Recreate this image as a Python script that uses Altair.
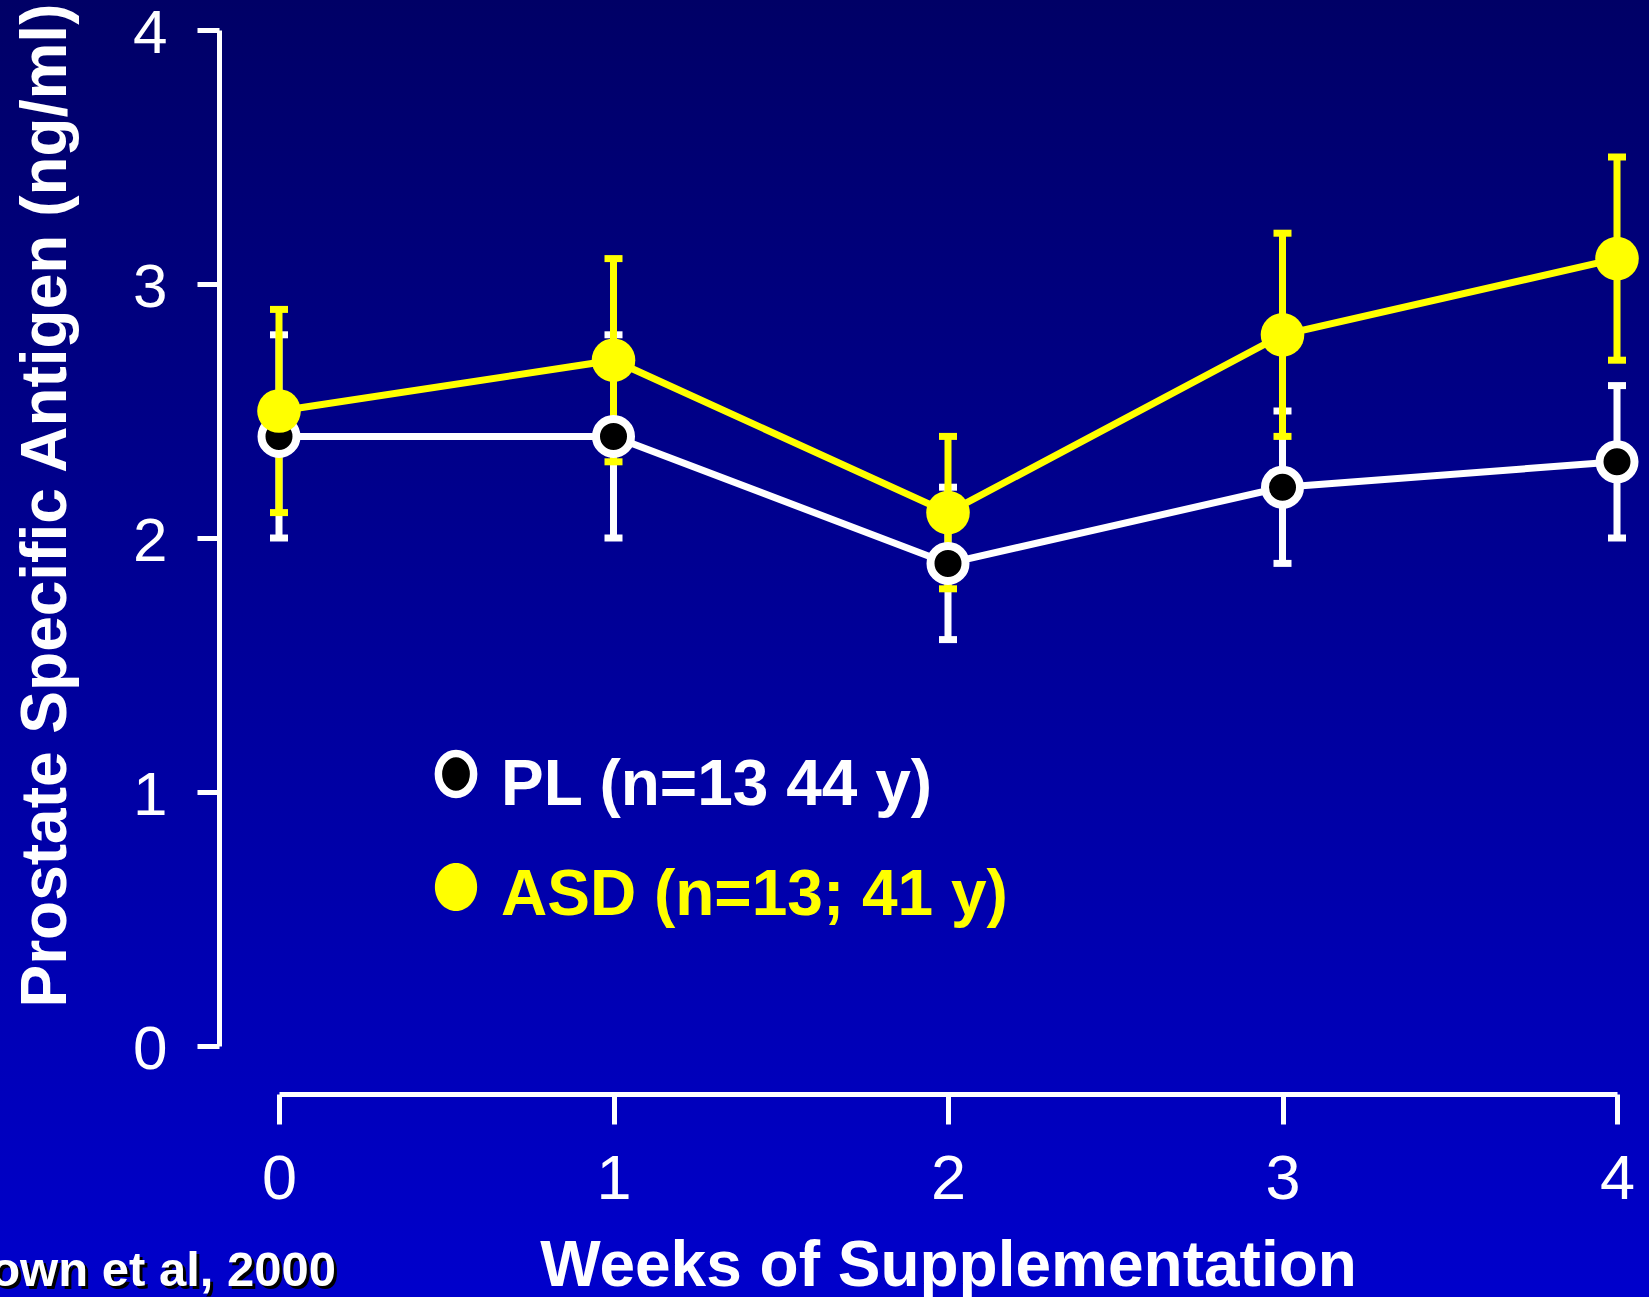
import altair as alt
import pandas as pd

# Mean prostate specific antigen (ng/ml) and standard error by week
weeks = [0, 1, 2, 3, 4]
pl_mean = [2.4, 2.4, 1.9, 2.2, 2.3]
pl_err = [0.4, 0.4, 0.3, 0.3, 0.3]
asd_mean = [2.5, 2.7, 2.1, 2.8, 3.1]
asd_err = [0.4, 0.4, 0.3, 0.4, 0.4]

series_labels = ["PL (n=13 44 y)", "ASD (n=13; 41 y)"]
x_ticks = [0, 1, 2, 3, 4]
y_ticks = [0, 1, 2, 3, 4]
citation = ["Brown et al, 2000"]

WHITE = "#FFFFFF"
YELLOW = "#FFFF00"
FONT = "Liberation Sans, Arial, sans-serif"

W, H = 1338, 1016
PAD = {"left": 279, "top": 30, "right": 32, "bottom": 251}

pl = pd.DataFrame({"week": weeks, "mean": pl_mean, "err": pl_err})
asd = pd.DataFrame({"week": weeks, "mean": asd_mean, "err": asd_err})

x_scale = alt.Scale(domain=[0, 4], nice=False, zero=False)
y_scale = alt.Scale(domain=[0, 4], nice=False, zero=False)

x_axis = alt.Axis(
    values=x_ticks, format="d", grid=False, zindex=1,
    domainColor=WHITE, domainWidth=5, tickColor=WHITE, tickWidth=5, tickSize=30,
    offset=48, labelColor=WHITE, labelFont=FONT, labelFontSize=63, labelPadding=24,
    labelFlush=False,
    title="Weeks of Supplementation", titleColor=WHITE, titleFont=FONT,
    titleFontSize=64, titleFontWeight="bold", titleBaseline="alphabetic", titleY=191,
)
y_axis = alt.Axis(
    values=y_ticks, format="d", grid=False, zindex=1,
    domainColor=WHITE, domainWidth=5, tickColor=WHITE, tickWidth=5, tickSize=22,
    offset=60, labelColor=WHITE, labelFont=FONT, labelFontSize=62, labelPadding=30,
    labelBaseline="alphabetic", labelOffset=22, labelFlush=False,
    title="Prostate Specific Antigen (ng/ml)", titleColor=WHITE, titleFont=FONT,
    titleFontSize=64, titleFontWeight="bold", titleAngle=270, titleAlign="left",
    titleBaseline="alphabetic", titleX=-154, titleY=977,
)

X = alt.X("week:Q", scale=x_scale, axis=x_axis)
Y = alt.Y("mean:Q", scale=y_scale, axis=y_axis)

# Full-page gradient backdrop
backdrop = alt.Chart(pd.DataFrame({"k": [0]})).mark_rect(
    fill=alt.Gradient(
        gradient="linear",
        stops=[alt.GradientStop(color="#000066", offset=0),
               alt.GradientStop(color="#0000CC", offset=1)],
        x1=0, x2=0, y1=0, y2=1,
    )
).encode(
    x=alt.value(-PAD["left"]), x2=alt.value(W + PAD["right"]),
    y=alt.value(-PAD["top"]), y2=alt.value(H + PAD["bottom"]),
)


def error_layers(df, color):
    base = alt.Chart(df).transform_calculate(
        lo="datum.mean - datum.err", hi="datum.mean + datum.err"
    )
    stems = base.mark_rule(color=color, strokeWidth=7).encode(
        x=X, y=alt.Y("lo:Q", scale=y_scale, axis=y_axis), y2="hi:Q"
    )
    caps = base.transform_fold(["lo", "hi"], as_=["end", "bound"]).mark_tick(
        color=color, orient="horizontal", size=18, thickness=7, opacity=1
    ).encode(x=X, y=alt.Y("bound:Q", scale=y_scale, axis=y_axis))
    return stems + caps


pl_bars = error_layers(pl, WHITE)
asd_bars = error_layers(asd, YELLOW)

pl_line = alt.Chart(pl).mark_line(color=WHITE, strokeWidth=7).encode(x=X, y=Y)
asd_line = alt.Chart(asd).mark_line(color=YELLOW, strokeWidth=7).encode(x=X, y=Y)

pl_pts = alt.Chart(pl).mark_point(
    shape="circle", filled=True, fill="black", stroke=WHITE, strokeWidth=8,
    size=1225, opacity=1
).encode(x=X, y=Y)
asd_pts = alt.Chart(asd).mark_point(
    shape="circle", filled=True, fill=YELLOW, strokeWidth=0, size=1900, opacity=1
).encode(x=X, y=Y)

# Key: oval symbols with coloured labels
def oval(a, b=1.0, k=0.5523):
    return (
        f"M0,{-b} C{k*a},{-b} {a},{-k*b} {a},0 "
        f"C{a},{k*b} {k*a},{b} 0,{b} "
        f"C{-k*a},{b} {-a},{k*b} {-a},0 "
        f"C{-a},{-k*b} {-k*a},{-b} 0,{-b} Z"
    )

key_pl_sym = alt.Chart(pd.DataFrame({"s": [series_labels[0]]})).mark_point(
    shape=oval(0.86), filled=True, fill="black", stroke=WHITE, strokeWidth=7.5,
    size=41 ** 2, opacity=1
).encode(x=alt.value(177), y=alt.value(744))
key_asd_sym = alt.Chart(pd.DataFrame({"s": [series_labels[1]]})).mark_point(
    shape=oval(0.88), filled=True, fill=YELLOW, strokeWidth=0,
    size=48 ** 2, opacity=1
).encode(x=alt.value(177), y=alt.value(857))

key_pl_txt = alt.Chart(pd.DataFrame({"s": [series_labels[0]]})).mark_text(
    align="left", baseline="alphabetic", font=FONT, fontWeight="bold",
    fontSize=64, color=WHITE
).encode(text="s:N", x=alt.value(222), y=alt.value(775))
key_asd_txt = alt.Chart(pd.DataFrame({"s": [series_labels[1]]})).mark_text(
    align="left", baseline="alphabetic", font=FONT, fontWeight="bold",
    fontSize=64, color=YELLOW
).encode(text="s:N", x=alt.value(222), y=alt.value(885))

# Source note with drop shadow
cite_df = pd.DataFrame({"c": citation})
cite_shadow = alt.Chart(cite_df).mark_text(
    align="right", baseline="alphabetic", font=FONT, fontWeight="bold",
    fontSize=49, color="black"
).encode(text="c:N", x=alt.value(60), y=alt.value(1259))
cite_text = alt.Chart(cite_df).mark_text(
    align="right", baseline="alphabetic", font=FONT, fontWeight="bold",
    fontSize=49, color=WHITE
).encode(text="c:N", x=alt.value(57), y=alt.value(1256))

chart = alt.layer(
    backdrop,
    pl_bars, asd_bars,
    pl_line, asd_line,
    pl_pts, asd_pts,
    key_pl_sym, key_asd_sym, key_pl_txt, key_asd_txt,
    cite_shadow, cite_text,
).properties(
    width=W, height=H, padding=PAD,
    autosize=alt.AutoSizeParams(type="none"),
    background="#000066",
).configure_view(stroke=None)

chart.save("out.html", embed_options={"renderer": "svg", "actions": False})
